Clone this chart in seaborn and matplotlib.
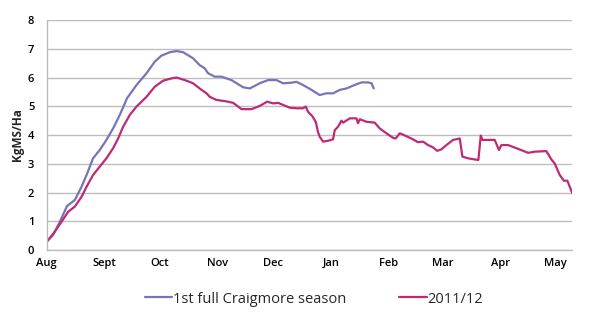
import matplotlib
matplotlib.use("Agg")
import matplotlib.pyplot as plt
import seaborn as sns
import pandas as pd
from matplotlib.lines import Line2D

# Days since 1 Aug and KgMS/Ha values
craig_days = [0, 3.4, 7.0, 10.9, 15.1, 18.7, 21.4, 24.9, 28.5, 32.1, 35.7, 39.3, 43.2, 48.3,
              53.7, 58.1, 61.7, 66.2, 69.8, 73.4, 78.7, 82.3, 85.0, 86.8, 90.4, 94.0, 99.4,
              105.7, 109.3, 114.6, 119.1, 123.6, 127.2, 131.7, 134.4, 137.9, 142.5, 146.9,
              150.5, 154.1, 157.7, 161.3, 164.9, 169.4, 172.9, 174.8, 176.0]
craig_vals = [0.29, 0.52, 0.98, 1.53, 1.74, 2.2, 2.61, 3.19, 3.48, 3.83, 4.23, 4.7, 5.28, 5.74,
              6.15, 6.55, 6.76, 6.88, 6.92, 6.88, 6.67, 6.43, 6.32, 6.15, 6.03, 6.03, 5.91,
              5.66, 5.62, 5.8, 5.91, 5.91, 5.8, 5.82, 5.85, 5.74, 5.57, 5.39,
              5.45, 5.45, 5.57, 5.62, 5.72, 5.83, 5.83, 5.8, 5.62]

s1112_days = [0, 4.3, 7.9, 11.5, 15.1, 18.7, 21.4, 24.9, 28.5, 32.1, 35.7, 38.4, 41.1, 44.7,
              48.3, 53.7, 58.1, 62.6, 67.1, 69.8, 74.3, 78.7, 83.3, 86.0, 87.7, 91.3, 95.8,
              100.3, 104.8, 110.2, 114.6, 118.6, 121.8, 124.5, 130.8, 134.4, 137.9, 139.4,
              140.6, 143.0, 144.8, 146.0, 146.9, 148.7, 151.4, 154.1, 155.0, 156.8, 158.6,
              159.5, 163.1, 166.7, 167.5, 168.5, 172.1, 176.5, 179.2, 182.8, 186.4, 187.8,
              190.0, 193.6, 197.1, 199.8, 202.5, 205.2, 207.9, 210.1, 212.4, 215.1, 218.7,
              222.3, 223.7, 226.7, 232.3, 233.6, 234.5, 241.1, 243.4, 244.7, 248.3, 252.8,
              256.4, 259.1, 262.6, 268.9, 271.6, 273.4, 276.1, 278.3, 280.2, 282.9]
s1112_vals = [0.29, 0.64, 0.98, 1.33, 1.51, 1.85, 2.2, 2.61, 2.9, 3.19, 3.54, 3.88, 4.29, 4.7,
              4.99, 5.33, 5.68, 5.89, 5.97, 6.0, 5.91, 5.8, 5.57, 5.45, 5.33, 5.22, 5.18,
              5.12, 4.9, 4.9, 5.01, 5.16, 5.1, 5.12, 4.95, 4.93, 4.93, 4.99,
              4.81, 4.65, 4.45, 4.1, 3.94, 3.77, 3.8, 3.85, 4.17, 4.29, 4.5,
              4.43, 4.58, 4.58, 4.41, 4.55, 4.46, 4.43, 4.23, 4.06, 3.9, 3.88,
              4.06, 3.96, 3.85, 3.75, 3.77, 3.65, 3.57, 3.45, 3.5, 3.65, 3.83,
              3.88, 3.25, 3.19, 3.13, 3.98, 3.83, 3.83, 3.48, 3.65, 3.65, 3.54,
              3.45, 3.38, 3.42, 3.44, 3.15, 3.01, 2.61, 2.41, 2.41, 1.97]

month_labels = ["Aug", "Sept", "Oct", "Nov", "Dec", "Jan", "Feb", "Mar", "Apr", "May"]
month_days = [0, 31, 61, 92, 122, 153, 184, 213, 244, 274]
series_names = ["1st full Craigmore season", "2011/12"]
colors = ["#7774b8", "#c02a72"]

df = pd.concat([
    pd.DataFrame({"day": craig_days, "val": craig_vals, "series": series_names[0]}),
    pd.DataFrame({"day": s1112_days, "val": s1112_vals, "series": series_names[1]}),
])

sns.set_theme(style="white")
plt.rcParams["font.family"] = ["Open Sans", "DejaVu Sans"]

fig = plt.figure(figsize=(6, 3.23), dpi=100)
ax = fig.add_axes([0.078, 0.226, 0.875, 0.712])

sns.lineplot(data=df, x="day", y="val", hue="series", palette=colors,
             hue_order=series_names, linewidth=1.6, ax=ax, legend=False)

ax.set_xlim(0, 282.6)
ax.set_ylim(0, 8)
ax.set_yticks(range(0, 9))
ax.set_xticks(month_days)
ax.set_xticklabels(month_labels)
ax.yaxis.grid(True, color="#bdbdbd", linewidth=1.0)
ax.xaxis.grid(False)
ax.set_axisbelow(True)
for side in ["top", "right"]:
    ax.spines[side].set_visible(False)
for side in ["left", "bottom"]:
    ax.spines[side].set_color("#bdbdbd")
    ax.spines[side].set_linewidth(1.0)
ax.tick_params(axis="both", length=0, labelsize=8, colors="black", pad=6)
ax.tick_params(axis="y", pad=9)
for lbl in ax.get_xticklabels() + ax.get_yticklabels():
    lbl.set_fontweight("semibold")
ax.set_xlabel("")
ax.set_ylabel("KgMS/Ha", fontsize=8.5, fontweight="bold", labelpad=3)

handles = [Line2D([0], [0], color=c, lw=1.6) for c in colors]
fig.legend(handles, series_names, loc="center", bbox_to_anchor=(0.523, 0.074),
           ncol=2, frameon=False, fontsize=10.5, handlelength=1.9, handletextpad=0.05,
           columnspacing=3.6)

fig.savefig("out.png", dpi=100, facecolor="white")
